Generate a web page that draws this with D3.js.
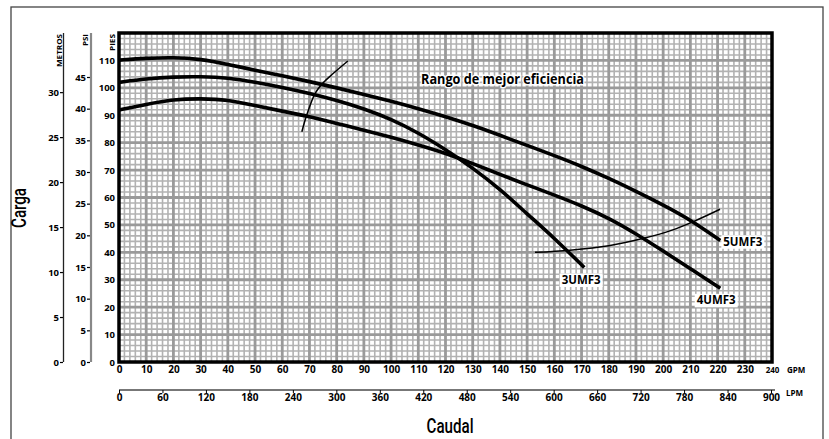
<!DOCTYPE html>
<html><head><meta charset="utf-8">
<script src="https://cdn.jsdelivr.net/npm/d3@7"></script>
<style>
html,body{margin:0;padding:0;background:#fff;}
text{font-family:"Open Sans","Noto Sans",sans-serif;}
</style></head>
<body>
<svg id="chart" width="829" height="439"></svg>
<script>
// ---------- data ----------
const gpmTicks = d3.range(0, 241, 10);
const lpmTicks = d3.range(0, 901, 60);
const piesTicks = d3.range(0, 111, 10);
const metrosTicks = d3.range(0, 31, 5);
const psiTicks = d3.range(0, 46, 5);

const flow5 = [0,10,20,30,40,50,60,70,80,90,100,110,120,130,140,150,160,170,180,190,200,210,221];
const head5 = [110.1,110.8,111.1,110.5,108.6,106.4,104.4,102.3,100.0,97.6,95.1,92.4,89.5,86.3,82.7,79.0,75.3,71.4,67.0,62.3,57.3,51.9,44.3];

const flow3 = [0,10,20,30,40,50,60,70,80,90,100,110,120,130,140,150,160,171];
const head3 = [102.0,103.3,104.0,104.1,103.7,102.1,100.2,98.0,95.5,92.4,88.6,83.6,77.5,70.8,63.1,54.0,45.2,34.5];

const flow4 = [0,10,20,30,40,50,60,70,80,90,100,110,120,130,140,150,160,170,180,190,200,210,221];
const head4 = [91.9,94.0,95.8,96.1,95.7,93.5,91.5,89.5,87.0,84.6,82.0,79.2,76.2,72.4,68.4,64.6,60.9,57.0,52.5,46.8,40.5,34.0,26.9];

const effLeftFlow = [67.2,69.0,72.1,75.1,78.8,84.1];
const effLeftHead = [84.0,90.1,98.0,101.9,105.3,109.8];
const effRightFlow = [152.9,165.8,180,192.8,203,211.1,220.9];
const effRightHead = [40.0,40.8,42.4,45.1,48.0,51.2,55.7];

const seriesNames = ["5UMF3","3UMF3","4UMF3"];

// ---------- scales ----------
const svg = d3.select("#chart");
const X0 = 119, X1 = 772, Y0 = 362, Y1 = 33;
const x = d3.scaleLinear([0, 240], [X0, X1]);
const y = d3.scaleLinear([0, 120], [Y0, Y1]);
const lpm = d3.scaleLinear([0, 900], [X0, 771]);
const yM = d3.scaleLinear([0, 120 * 0.3048], [Y0, Y1]);
const yP = d3.scaleLinear([0, 120 / 2.31], [Y0, Y1]);

// outer border
svg.append("rect").attr("x", 11).attr("y", 7).attr("width", 812).attr("height", 445)
  .attr("fill", "none").attr("stroke", "#444").attr("stroke-width", 1.3);

// ---------- grid ----------
const grid = svg.append("g");
const minorX = d3.range(0, 241, 2).filter(v => v % 10 !== 0);
const minorY = d3.range(0, 121, 2).filter(v => v % 10 !== 0);
grid.selectAll(".mx").data(minorX).join("line")
  .attr("x1", d => x(d)).attr("x2", d => x(d)).attr("y1", Y1).attr("y2", Y0)
  .attr("stroke", "#b2b2b2").attr("stroke-width", 1.6);
grid.selectAll(".my").data(minorY).join("line")
  .attr("y1", d => y(d)).attr("y2", d => y(d)).attr("x1", X0).attr("x2", X1)
  .attr("stroke", "#b2b2b2").attr("stroke-width", 1.6);
grid.selectAll(".Mx").data(d3.range(10, 240, 10)).join("line")
  .attr("x1", d => x(d)).attr("x2", d => x(d)).attr("y1", Y1).attr("y2", Y0)
  .attr("stroke", "#9a9a9a").attr("stroke-width", 2.8);
grid.selectAll(".My").data(d3.range(10, 120, 10)).join("line")
  .attr("y1", d => y(d)).attr("y2", d => y(d)).attr("x1", X0).attr("x2", X1)
  .attr("stroke", "#9a9a9a").attr("stroke-width", 2.8);

// ---------- curves ----------
const line = d3.line().x(d => x(d[0])).y(d => y(d[1])).curve(d3.curveBasis);
const curves = [d3.zip(flow5, head5), d3.zip(flow3, head3), d3.zip(flow4, head4)];
svg.append("g").selectAll("path").data(curves).join("path")
  .attr("d", line).attr("fill", "none").attr("stroke", "#000")
  .attr("stroke-width", 3.6).attr("stroke-linecap", "butt");

const effLine = d3.line().x(d => x(d[0])).y(d => y(d[1])).curve(d3.curveCatmullRom);
const effs = [d3.zip(effLeftFlow, effLeftHead), d3.zip(effRightFlow, effRightHead)];
svg.append("g").selectAll("path").data(effs).join("path")
  .attr("d", effLine).attr("fill", "none").attr("stroke", "#000").attr("stroke-width", 1.5);

// curve labels (anchored to each curve's last point)
const ends = [[flow5.at(-1), head5.at(-1)], [flow3.at(-1), head3.at(-1)], [flow4.at(-1), head4.at(-1)]];
const labelOffsets = [[3, 5.2], [-22.6, 16.6], [-23.6, 16.1]];
const labG = svg.append("g");
seriesNames.forEach((name, i) => {
  const lx = x(ends[i][0]) + labelOffsets[i][0];
  const ly = y(ends[i][1]) + labelOffsets[i][1];
  labG.append("rect").attr("x", lx - 2).attr("y", ly - 10.5).attr("width", 43).attr("height", 13.5).attr("fill", "#fff");
  labG.append("text").attr("x", lx).attr("y", ly).text(name)
    .attr("font-size", 12).attr("font-weight", 700).attr("textLength", 39).attr("lengthAdjust", "spacingAndGlyphs");
});

// range label
svg.append("text").attr("x", x(111)).attr("y", y(101.5)).text("Rango de mejor eficiencia")
  .attr("font-size", 14).attr("font-weight", 700)
  .attr("textLength", 163).attr("lengthAdjust", "spacingAndGlyphs")
  .attr("stroke", "#fff").attr("stroke-width", 3).attr("paint-order", "stroke").attr("fill", "#000");

// frame
svg.append("rect").attr("x", X0).attr("y", Y1).attr("width", X1 - X0).attr("height", Y0 - Y1)
  .attr("fill", "none").attr("stroke", "#000").attr("stroke-width", 3.5);

// ---------- axes ----------
function styleTicks(g, size) {
  g.selectAll("text").attr("font-size", size).attr("font-weight", 700).attr("fill", "#000")
    .attr("font-family", "'Open Sans','Noto Sans',sans-serif");
}
// PIES
const gPies = svg.append("g").attr("transform", `translate(${X0},0)`)
  .call(d3.axisLeft(y).tickValues(piesTicks).tickSize(0).tickPadding(4));
gPies.select(".domain").remove();
styleTicks(gPies, 9.5);

// METROS
const gM = svg.append("g").attr("transform", "translate(63,0)")
  .call(d3.axisLeft(yM).tickValues(metrosTicks).tickSize(3).tickPadding(1).tickSizeOuter(0));
gM.select(".domain").remove();
gM.selectAll(".tick line").attr("stroke", "#000").attr("stroke-width", 1.2);
styleTicks(gM, 9.5);
svg.append("line").attr("x1", 63.5).attr("x2", 63.5).attr("y1", Y1).attr("y2", Y0)
  .attr("stroke", "#222").attr("stroke-width", 1.3);

// PSI
const gP = svg.append("g").attr("transform", "translate(90,0)")
  .call(d3.axisLeft(yP).tickValues(psiTicks).tickSize(3).tickPadding(1).tickSizeOuter(0));
gP.select(".domain").remove();
gP.selectAll(".tick line").attr("stroke", "#000").attr("stroke-width", 1.2);
styleTicks(gP, 9.5);
svg.append("line").attr("x1", 91).attr("x2", 91).attr("y1", Y1).attr("y2", Y0)
  .attr("stroke", "#888").attr("stroke-width", 2.2);

// axis unit titles
[["METROS", 62, 33], ["PSI", 88, 12], ["PIES", 115, 17]].forEach(([t, bx, len]) => {
  svg.append("text").attr("transform", `translate(${bx},34) rotate(-90)`).attr("text-anchor", "end")
    .attr("font-size", 7.5).attr("font-weight", 700).attr("textLength", len)
    .attr("lengthAdjust", "spacingAndGlyphs").text(t);
});

// GPM axis
const gG = svg.append("g").attr("transform", `translate(0,${Y0})`)
  .call(d3.axisBottom(x).tickValues(gpmTicks).tickSize(0).tickPadding(4));
gG.select(".domain").remove();
styleTicks(gG, 10);
gG.selectAll(".tick text").filter(d => d === 240).attr("font-size", 8).attr("dy", "0.85em");
svg.append("text").attr("x", 787).attr("y", 373).attr("font-size", 8).attr("font-weight", 700).text("GPM");

// LPM axis
const gL = svg.append("g").attr("transform", "translate(0,390)")
  .call(d3.axisBottom(lpm).tickValues(lpmTicks).tickSize(3).tickPadding(1).tickSizeOuter(0));
gL.select(".domain").attr("stroke", "#777").attr("stroke-width", 2).attr("d", `M${X0},0H775`);
gL.selectAll(".tick line").attr("stroke", "#000");
styleTicks(gL, 10);
svg.append("text").attr("x", 786).attr("y", 396).attr("font-size", 8).attr("font-weight", 700).text("LPM");

// titles
svg.append("text").attr("transform", "translate(26,208) rotate(-90)").attr("text-anchor", "middle")
  .attr("font-weight", 500).attr("font-size", 20)
  .attr("textLength", 40).attr("lengthAdjust", "spacingAndGlyphs").style("font-family", "Roboto,sans-serif").text("Carga");
svg.append("text").attr("x", 450).attr("y", 433).attr("text-anchor", "middle")
  .attr("font-weight", 500).attr("font-size", 20)
  .attr("textLength", 47).attr("lengthAdjust", "spacingAndGlyphs").style("font-family", "Roboto,sans-serif").text("Caudal");
</script>
</body></html>
